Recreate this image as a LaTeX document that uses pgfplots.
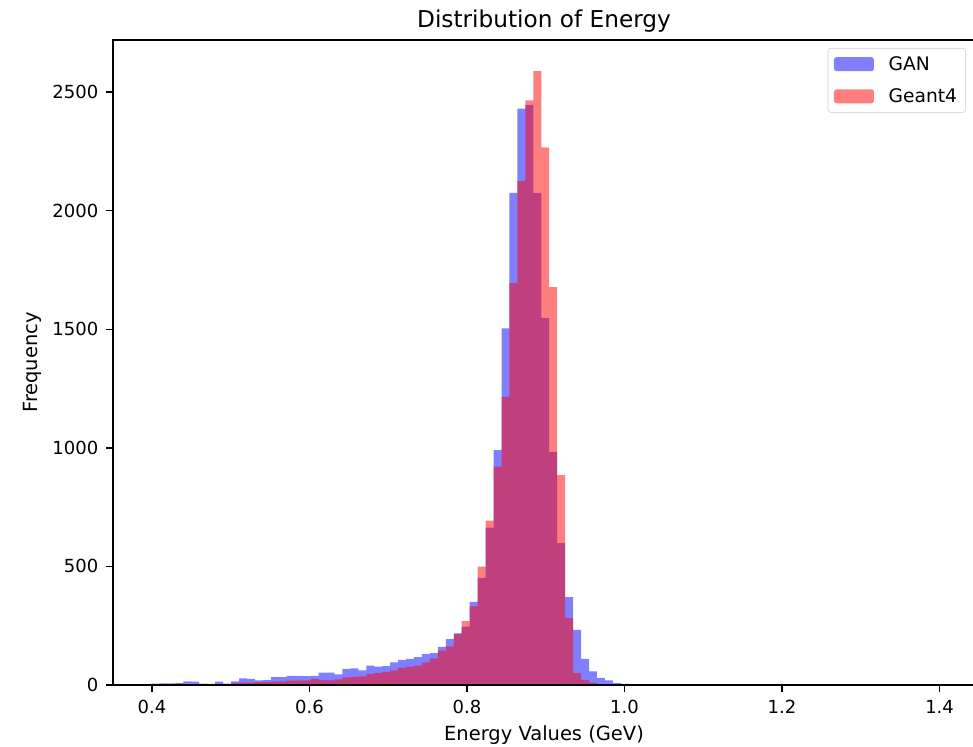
\documentclass[border=0pt]{standalone}
\usepackage{fontspec}
\setmainfont{DejaVu Sans}
\usepackage{pgfplots}
\pgfplotsset{compat=1.18}

\begin{document}
\begin{tikzpicture}
\begin{axis}[
    name=ax,
    scale only axis,
    width=646.5pt, height=483.75pt,
    xmin=0.3505, xmax=1.445,
    ymin=0, ymax=2720,
    axis on top,
    axis line style={line width=1.1pt, black},
    tick align=outside,
    major tick length=5pt,
    tick style={line width=1.1pt, black},
    xtick={0.4,0.6,0.8,1.0,1.2,1.4},
    ytick={0,500,1000,1500,2000,2500},
    xtick pos=bottom, ytick pos=left,
    scaled ticks=false,
    /pgf/number format/assume math mode=true,
    xticklabel style={font=\fontsize{13.5}{16}\selectfont, yshift=-3pt, /pgf/number format/.cd, fixed, fixed zerofill, precision=1},
    yticklabel style={font=\fontsize{13.5}{16}\selectfont, xshift=-2.5pt, /pgf/number format/.cd, fixed, 1000 sep={}},
    title={Distribution of Energy},
    title style={font=\fontsize{17.4}{20}\selectfont, at={(axis description cs:0.5,1)}, anchor=base, yshift=3pt, inner sep=0pt},
    xlabel={Energy Values (GeV)},
    xlabel style={font=\fontsize{14.6}{17}\selectfont, at={(axis description cs:0.5,0)}, anchor=base, yshift=-41.25pt, inner sep=0pt},
    ylabel={Frequency},
    ylabel style={font=\fontsize{14.6}{17}\selectfont, at={([xshift=-56.25pt]axis description cs:0,0.5)}, anchor=base, inner sep=0pt},
    legend image code/.code={\fill[#1] (0pt,-5.25pt) rectangle (30pt,5.25pt);},
    legend cell align=left,
    legend style={at={(1,1)}, anchor=north east, xshift=-6.75pt, yshift=-6pt,
        draw=black!20, rounded corners=2pt, font=\fontsize{14}{16}\selectfont,
        inner xsep=4.5pt, inner ysep=4pt, row sep=8.25pt,
        /tikz/every odd column/.append style={column sep=9pt}},
]
% GAN: left bin edges and counts
\addplot[const plot mark left, draw=none, fill=blue, fill opacity=0.5] table {
x y
0.3994 6
0.4095 7
0.4196 7
0.4297 8
0.4398 15
0.4499 14
0.4600 6
0.4701 5
0.4802 14
0.4903 6
0.5004 15
0.5105 28
0.5206 26
0.5307 20
0.5408 21
0.5509 33
0.5610 33
0.5711 38
0.5812 38
0.5913 37
0.6014 38
0.6115 52
0.6216 52
0.6317 45
0.6418 68
0.6519 70
0.6620 62
0.6721 82
0.6822 78
0.6923 80
0.7024 95
0.7125 106
0.7226 110
0.7327 118
0.7428 130
0.7529 134
0.7630 161
0.7731 193
0.7832 218
0.7933 246
0.8034 351
0.8135 452
0.8236 664
0.8337 990
0.8438 1504
0.8539 2075
0.8640 2431
0.8741 2445
0.8842 2074
0.8943 1547
0.9044 983
0.9145 598
0.9246 371
0.9347 232
0.9448 110
0.9549 58
0.9650 30
0.9751 19
0.9852 8
0.9953 5
1.0054 2
1.0155 1
1.0256 1
1.0357 1
} \closedcycle;
\addlegendentry{GAN}
% Geant4: left bin edges and counts
\addplot[const plot mark left, draw=none, fill=red, fill opacity=0.5] table {
x y
0.3994 1
0.4095 0
0.4196 1
0.4297 0
0.4398 1
0.4499 2
0.4600 1
0.4701 2
0.4802 3
0.4903 4
0.5004 8
0.5105 10
0.5206 10
0.5307 12
0.5408 12
0.5509 14
0.5610 15
0.5711 18
0.5812 18
0.5913 20
0.6014 26
0.6115 22
0.6216 20
0.6317 24
0.6418 32
0.6519 34
0.6620 36
0.6721 46
0.6822 50
0.6923 55
0.7024 62
0.7125 72
0.7226 78
0.7327 82
0.7428 95
0.7529 112
0.7630 145
0.7731 163
0.7832 216
0.7933 269
0.8034 332
0.8135 499
0.8236 693
0.8337 921
0.8438 1215
0.8539 1695
0.8640 2125
0.8741 2465
0.8842 2590
0.8943 2267
0.9044 1678
0.9145 885
0.9246 282
0.9347 50
0.9448 21
0.9549 10
0.9650 4
0.9751 3
0.9852 3
0.9953 2
1.0054 2
1.0155 0
1.0559 2
1.0660 0
1.2276 1
1.2377 0
1.2478 1
1.2579 0
1.3993 1
1.4094 1
} \closedcycle;
\addlegendentry{Geant4}
\end{axis}
\pgfresetboundingbox
\path ([xshift=-84.75pt,yshift=-45.75pt]ax.south west) rectangle ([xshift=-1.5pt,yshift=30pt]ax.north east);
\end{tikzpicture}
\end{document}
